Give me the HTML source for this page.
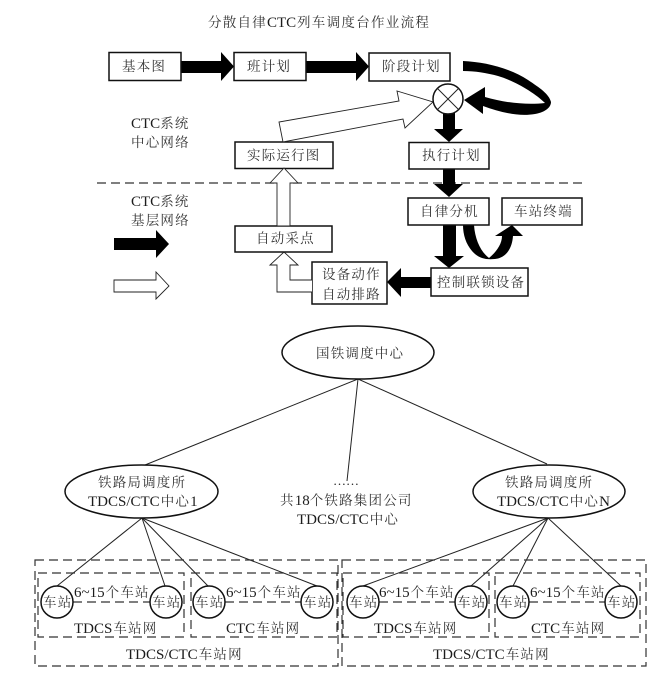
<!DOCTYPE html>
<html lang="zh">
<head>
<meta charset="utf-8">
<title>分散自律CTC列车调度台作业流程</title>
<style>
html,body{margin:0;padding:0;background:#fff}
svg{display:block}
text{font-family:"Liberation Serif","Noto Serif CJK SC",serif;font-size:15px;fill:#1c1c1c}
.c{font-size:13.5px;letter-spacing:1.2px;fill:#333}
.b{fill:#fff;stroke:#111;stroke-width:1.5}
.k{fill:#000;stroke:none}
.h{fill:#fff;stroke:#222;stroke-width:.9}
.l{fill:none;stroke:#222;stroke-width:1}
.d{fill:none;stroke:#333;stroke-width:1.2;stroke-dasharray:9 5}
.e{fill:#fff;stroke:#111;stroke-width:1.5}
</style>
</head>
<body>
<svg width="663" height="680" viewBox="0 0 663 680" xmlns="http://www.w3.org/2000/svg">
<rect width="663" height="680" fill="#fff"/>

<text y="27"><tspan class="c" x="208 222.8 237.5 252.3">分散自律</tspan><tspan x="267">CTC</tspan><tspan class="c" x="297 311.8 326.6 341.4 356.2 371 385.8 400.6 415.4">列车调度台作业流程</tspan></text>

<line class="d" x1="97" y1="183" x2="582" y2="183"/>

<polygon class="k" points="181,61 221,61 221,52 234,66.5 221,81 221,73 181,73"/>
<polygon class="k" points="306,61 356,61 356,52 369,66.5 356,81 356,73 306,73"/>
<polygon class="k" points="443,112 455,112 455,129 463,129 449,142 434,129 443,129"/>
<polygon class="k" points="443,169 455,169 455,184 463,184 449,197 434,184 443,184"/>
<polygon class="k" points="443,225 456,225 456,256 464,256 449,268 434,256 443,256"/>
<polygon class="k" points="431,277 401,277 401,268 387,282 401,297 401,288 431,288"/>
<path class="k" d="M463,61 C485,62 510,68 528,80 C540,88 549,94 551,102 C551,107 546,112 535,114 C518,117 500,112 483,106 L483,114 L464,100 L485,87 L485,97 C505,103 527,105 545,103 C535,93 515,81 498,76 C487,73 475,71 463,71 Z"/>
<path class="k" d="M463,225 L474,225 C475,240 481,252 489,258 C495,253 502,245 502,236 L495,236 L512,225 L523,236 L513,236 C512,250 505,258 495,259 C485,260 478,258 472,251 C466,244 463,235 463,225 Z"/>

<rect class="b" x="109" y="52.5" width="72" height="28"/>
<rect class="b" x="234" y="52.5" width="72" height="28"/>
<rect class="b" x="369" y="53" width="81" height="28"/>
<rect class="b" x="235" y="142" width="98" height="26.5"/>
<rect class="b" x="409" y="142.5" width="80" height="26.5"/>
<rect class="b" x="408" y="198" width="81" height="27"/>
<rect class="b" x="502" y="198" width="80" height="27"/>
<rect class="b" x="235" y="226" width="97" height="26"/>
<rect class="b" x="312" y="262" width="75" height="42"/>
<rect class="b" x="431" y="268" width="97" height="28"/>

<polygon class="h" points="283,142 279,122 399,101 397,91 433,102 405,128 403,119"/>
<polygon class="h" points="277,226 277,183 270,183 284,168 298,183 290,183 290,226"/>
<path class="h" d="M312,292 L277,292 L277,265 L270,265 L284,252 L298,265 L290,265 L290,280 L312,280"/>

<circle cx="448" cy="99" r="15" fill="#fff" stroke="#111" stroke-width="1.5"/>
<line class="l" x1="437.5" y1="88.5" x2="458.5" y2="109.5"/>
<line class="l" x1="458.5" y1="88.5" x2="437.5" y2="109.5"/>

<polygon class="k" points="114,238 156,238 156,230 169,244 156,258 156,250 114,250"/>
<polygon class="h" points="114,280 156,280 156,272 169,286 156,299 156,292 114,292"/>

<text class="c" x="122" y="71">基本图</text>
<text class="c" x="247" y="71">班计划</text>
<text class="c" x="382" y="71">阶段计划</text>
<text class="c" x="247" y="160">实际运行图</text>
<text class="c" x="422" y="160">执行计划</text>
<text class="c" x="420" y="216">自律分机</text>
<text class="c" x="514" y="216">车站终端</text>
<text class="c" x="256" y="243">自动采点</text>
<text class="c" x="322" y="279">设备动作</text>
<text class="c" x="322" y="299">自动排路</text>
<text class="c" x="437" y="287">控制联锁设备</text>

<text x="131" y="128">CTC<tspan class="c">系统</tspan></text>
<text class="c" x="131" y="147">中心网络</text>
<text x="131" y="206">CTC<tspan class="c">系统</tspan></text>
<text class="c" x="131" y="225">基层网络</text>

<line class="l" x1="358" y1="379" x2="145" y2="465"/>
<line class="l" x1="358" y1="379" x2="347" y2="481"/>
<line class="l" x1="358" y1="379" x2="547" y2="464"/>
<line class="l" x1="142" y1="518" x2="57" y2="586"/>
<line class="l" x1="142" y1="518" x2="165" y2="586"/>
<line class="l" x1="142" y1="518" x2="208" y2="586"/>
<line class="l" x1="142" y1="518" x2="317" y2="586"/>
<line class="l" x1="548" y1="518" x2="363" y2="586"/>
<line class="l" x1="548" y1="518" x2="471" y2="586"/>
<line class="l" x1="548" y1="518" x2="513" y2="586"/>
<line class="l" x1="548" y1="518" x2="621" y2="586"/>

<ellipse class="e" cx="358" cy="352.5" rx="76" ry="26.5"/>
<ellipse class="e" cx="141.5" cy="491.5" rx="76.5" ry="26.5"/>
<ellipse class="e" cx="549" cy="491.5" rx="76" ry="26.5"/>

<text class="c" x="316" y="358">国铁调度中心</text>
<text class="c" x="98" y="487">铁路局调度所</text>
<text x="88" y="506">TDCS/CTC<tspan class="c" dx="1">中心</tspan>1</text>
<text class="c" x="505" y="487">铁路局调度所</text>
<text x="497" y="506">TDCS/CTC<tspan class="c" dx="1">中心</tspan>N</text>
<text x="333" y="485" style="font-size:13px">……</text>
<text x="280" y="505"><tspan class="c">共</tspan>18<tspan class="c">个铁路集团公司</tspan></text>
<text x="297" y="524">TDCS/CTC<tspan class="c" dx="1">中心</tspan></text>

<rect class="d" x="35" y="560" width="303" height="106"/>
<rect class="d" x="342" y="560" width="304" height="106"/>
<rect class="d" x="38" y="573" width="146" height="64"/>
<rect class="d" x="191" y="573" width="146" height="64"/>
<rect class="d" x="343" y="573" width="146" height="64"/>
<rect class="d" x="495" y="573" width="145" height="64"/>
<line class="d" x1="73" y1="602" x2="150" y2="602"/>
<line class="d" x1="225" y1="602" x2="301" y2="602"/>
<line class="d" x1="379" y1="602" x2="455" y2="602"/>
<line class="d" x1="529" y1="602" x2="605" y2="602"/>

<g fill="none" stroke="#111" stroke-width="1.5">
<circle cx="57" cy="602" r="16"/>
<circle cx="166" cy="602" r="16"/>
<circle cx="209" cy="602" r="16"/>
<circle cx="317" cy="602" r="16"/>
<circle cx="363" cy="602" r="16"/>
<circle cx="471" cy="602" r="16"/>
<circle cx="513" cy="602" r="16"/>
<circle cx="621" cy="602" r="16"/>
</g>
<text class="c" x="43" y="607">车站</text>
<text class="c" x="152" y="607">车站</text>
<text class="c" x="195" y="607">车站</text>
<text class="c" x="303" y="607">车站</text>
<text class="c" x="349" y="607">车站</text>
<text class="c" x="457" y="607">车站</text>
<text class="c" x="499" y="607">车站</text>
<text class="c" x="607" y="607">车站</text>

<text x="74" y="597">6~15<tspan class="c" dx="1">个车站</tspan></text>
<text x="226" y="597">6~15<tspan class="c" dx="1">个车站</tspan></text>
<text x="379" y="597">6~15<tspan class="c" dx="1">个车站</tspan></text>
<text x="530" y="597">6~15<tspan class="c" dx="1">个车站</tspan></text>

<text x="74" y="633">TDCS<tspan class="c" dx="1">车站网</tspan></text>
<text x="226" y="633">CTC<tspan class="c" dx="1">车站网</tspan></text>
<text x="374" y="633">TDCS<tspan class="c" dx="1">车站网</tspan></text>
<text x="531" y="633">CTC<tspan class="c" dx="1">车站网</tspan></text>
<text x="126" y="659">TDCS/CTC<tspan class="c" dx="1">车站网</tspan></text>
<text x="433" y="659">TDCS/CTC<tspan class="c" dx="1">车站网</tspan></text>
</svg>
</body>
</html>
